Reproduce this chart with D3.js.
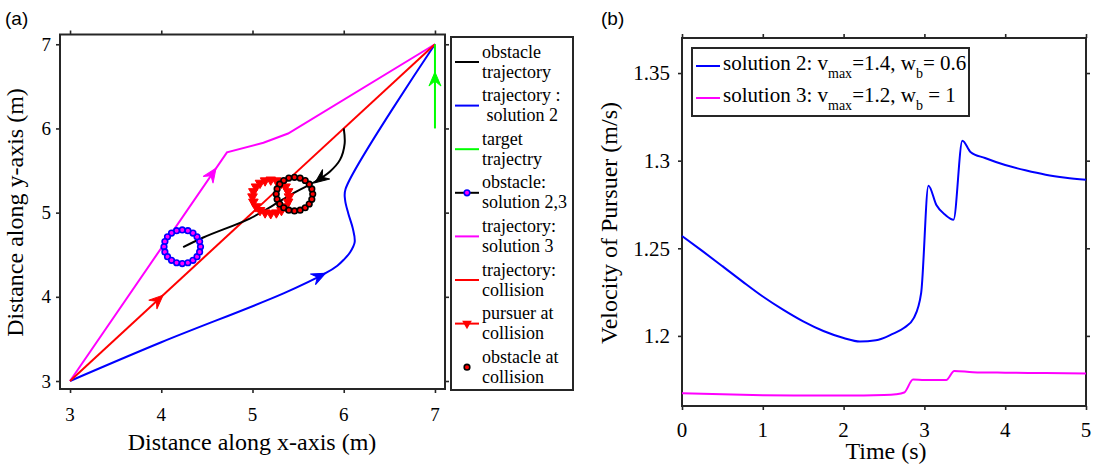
<!DOCTYPE html>
<html><head><meta charset="utf-8">
<script src="https://cdn.jsdelivr.net/npm/d3@7"></script>
<style>body{margin:0;background:#fff}svg{display:block}</style>
</head><body>
<svg id="c" width="1099" height="464"></svg>
<script>
// ---------- Panel (a) data ----------
const xTicksA = [3, 4, 5, 6, 7];
const yTicksA = [3, 4, 5, 6, 7];
const trajSolution2 = [[3,3],[4,3.46],[5.34,4.04],[5.8,4.28],[5.93,4.37],[6.0,4.44],[6.07,4.53],[6.12,4.65],[6.1,4.81],[6.05,4.99],[6.015,5.15],[6.02,5.28],[7,7]];
const trajSolution3 = [[3,3],[4.72,5.716],[5.12,5.83],[5.39,5.94],[7,7]];
const trajCollision = [[3,3],[7,7]];
const trajTarget = [[7,6],[7,7]];
const trajObstacle = [[6,6],[6.01,5.82],[5.96,5.63],[5.85,5.49],[5.69,5.37],[5.48,5.25],[5.23,5.09],[4.97,4.93],[4.46,4.705],[4.24,4.59]];
const obstacleSolCenter = [4.23, 4.595];
const obstacleColCenter = [5.46, 5.22];
const pursuerColCenter = [5.2, 5.19];
const ringRadius = 0.2;
const ringCount = 20;
// arrow tips and the point they come from
const arrowTips = [
  {c:'#ff00ff', tip:[4.6,5.527], from:[3,3]},
  {c:'#ff0000', tip:[4.02,4.02], from:[3,3]},
  {c:'#0000ff', tip:[5.8,4.28], from:[5.34,4.04]},
  {c:'#00ff00', tip:[7,6.67], from:[7,6]},
  {c:'#000000', tip:[5.685,5.356], from:[5.85,5.49]}
];
const legendA = [
  {type:'line', c:'#000000', t:['obstacle','trajectory']},
  {type:'line', c:'#0000ff', t:['trajectory :',' solution 2']},
  {type:'line', c:'#00ff00', t:['target','trajectry']},
  {type:'obs', c:'#000000', t:['obstacle:','solution 2,3']},
  {type:'line', c:'#ff00ff', t:['trajectory:','solution 3']},
  {type:'line', c:'#ff0000', t:['trajectory:','collision']},
  {type:'tri', c:'#ff0000', t:['pursuer at','collision']},
  {type:'col', c:'#000000', t:['obstacle at','collision']}
];

// ---------- Panel (b) data ----------
const xTicksB = [0, 1, 2, 3, 4, 5];
const yTicksB = [1.2, 1.25, 1.3, 1.35];
const yTickLabelsB = ['1.2', '1.25', '1.3', '1.35'];
const timeSol2 = [0,0.25,0.5,0.75,1.0,1.25,1.5,1.75,2.0,2.2,2.4,2.6,2.75,2.87,2.96,3.05,3.15,3.26,3.36,3.47,3.57,3.75,4.0,4.25,4.5,4.75,5];
const velSol2 = [1.257,1.2485,1.2398,1.231,1.2225,1.2150,1.2083,1.2028,1.1988,1.1968,1.1975,1.2010,1.2046,1.2103,1.2246,1.2857,1.2745,1.269,1.2663,1.3114,1.3050,1.3015,1.2975,1.2945,1.2920,1.2903,1.2891];
const timeSol3 = [0,0.5,1,1.5,2,2.5,2.65,2.75,2.86,3.0,3.27,3.37,3.6,4,4.5,5];
const velSol3 = [1.1673,1.1667,1.1662,1.1660,1.1660,1.1663,1.1667,1.1677,1.1751,1.1749,1.1749,1.1800,1.1793,1.1790,1.1788,1.1786];

// ---------- drawing ----------
const svg = d3.select('#c');
const AX = '#262626';
const SERIF = '"Liberation Serif", "Times New Roman", serif';
const SANS = '"Liberation Sans", Arial, sans-serif';

function boxAxes(g, x, y, xt, yt, xfmt, yfmt, fs, xLabY, yLabX) {
  const [x0, x1] = x.range(), [y0, y1] = y.range();
  g.append('g').attr('transform', `translate(0,${y0})`)
    .call(d3.axisBottom(x).tickValues(xt).tickSize(4).tickSizeOuter(0).tickFormat(''));
  g.append('g').attr('transform', `translate(0,${y1})`)
    .call(d3.axisTop(x).tickValues(xt).tickSize(4).tickSizeOuter(0).tickFormat(''));
  g.append('g').attr('transform', `translate(${x0},0)`)
    .call(d3.axisLeft(y).tickValues(yt).tickSize(4).tickSizeOuter(0).tickFormat(''));
  g.append('g').attr('transform', `translate(${x1},0)`)
    .call(d3.axisRight(y).tickValues(yt).tickSize(4).tickSizeOuter(0).tickFormat(''));
  g.selectAll('.domain').remove();
  g.selectAll('.tick text').remove();
  g.selectAll('.tick line').attr('stroke', AX).attr('stroke-width', 1.6);
  // tick labels as plain serif text
  g.selectAll('.xl').data(xt).join('text')
    .attr('x', d => x(d)).attr('y', y0 + xLabY).attr('text-anchor', 'middle')
    .style('font-family', SERIF).style('font-size', fs).text((d, i) => xfmt(d, i));
  g.selectAll('.yl').data(yt).join('text')
    .attr('x', x0 + yLabX).attr('y', d => y(d)).attr('dy', '0.35em').attr('text-anchor', 'end')
    .style('font-family', SERIF).style('font-size', fs).text((d, i) => yfmt(d, i));
  g.append('rect').attr('x', x0).attr('y', y1).attr('width', x1 - x0).attr('height', y0 - y1)
    .attr('fill', 'none').attr('stroke', AX).attr('stroke-width', 2);
}

// ===== Panel (a) =====
const xa = d3.scaleLinear().domain([2.89, 7.11]).range([60, 445]);
const ya = d3.scaleLinear().domain([2.905, 7.116]).range([389, 34.5]);
const ga = svg.append('g');
boxAxes(ga, xa, ya, xTicksA, yTicksA, d3.format('d'), d3.format('d'), '19px', 32, -9);
const lineA = d3.line().x(d => xa(d[0])).y(d => ya(d[1]));
const lineSmooth = d3.line().x(d => xa(d[0])).y(d => ya(d[1])).curve(d3.curveCatmullRom);
const pa = ga.append('g');
pa.append('path').attr('d', lineSmooth(trajSolution2)).attr('fill','none').attr('stroke','#0000ff').attr('stroke-width',2);
pa.append('path').attr('d', lineA(trajSolution3)).attr('fill','none').attr('stroke','#ff00ff').attr('stroke-width',2);
pa.append('path').attr('d', lineA(trajCollision)).attr('fill','none').attr('stroke','#ff0000').attr('stroke-width',2);
pa.append('path').attr('d', lineA(trajTarget)).attr('fill','none').attr('stroke','#00ff00').attr('stroke-width',2);
pa.append('path').attr('d', lineSmooth(trajObstacle)).attr('fill','none').attr('stroke','#000').attr('stroke-width',2);

function ring(center) {
  return d3.range(ringCount).map(i => {
    const a = 2 * Math.PI * i / ringCount;
    return [center[0] + ringRadius * Math.cos(a), center[1] + ringRadius * Math.sin(a)];
  });
}
const triSym = d3.symbol().type(d3.symbolTriangle).size(40);
pa.selectAll('.obs').data(ring(obstacleSolCenter)).join('circle')
  .attr('cx', d => xa(d[0])).attr('cy', d => ya(d[1])).attr('r', 2.8)
  .attr('fill', '#ff00ff').attr('stroke', '#0000ff').attr('stroke-width', 1.6);
pa.selectAll('.tri').data(ring(pursuerColCenter)).join('path')
  .attr('d', triSym).attr('transform', d => `translate(${xa(d[0])},${ya(d[1])}) rotate(180)`)
  .attr('fill', '#ff0000').attr('stroke', '#ff0000').attr('stroke-width', 1);
pa.selectAll('.col').data(ring(obstacleColCenter)).join('circle')
  .attr('cx', d => xa(d[0])).attr('cy', d => ya(d[1])).attr('r', 2.8)
  .attr('fill', '#ff0000').attr('stroke', '#000').attr('stroke-width', 1.6);

const L = 14, W = 6, N = 9;
arrowTips.forEach(a => {
  const tx = xa(a.tip[0]), ty = ya(a.tip[1]);
  const fx = xa(a.from[0]), fy = ya(a.from[1]);
  const ang = Math.atan2(ty - fy, tx - fx) * 180 / Math.PI;
  pa.append('path').attr('d', `M0,0 L${-L},${-W} L${-N},0 L${-L},${W} Z`)
    .attr('transform', `translate(${tx},${ty}) rotate(${ang})`)
    .attr('fill', a.c).attr('stroke', a.c).attr('stroke-width', 1);
});

// legend (a)
const lg = svg.append('g');
lg.append('rect').attr('x', 451).attr('y', 37).attr('width', 122).attr('height', 353)
  .attr('fill', '#fff').attr('stroke', AX).attr('stroke-width', 2);
legendA.forEach((e, i) => {
  const yl = 62 + 43.6 * i;
  if (e.type !== 'col') {
    const lc = e.type === 'obs' ? '#000' : e.c;
    lg.append('line').attr('x1', 455).attr('x2', 479).attr('y1', yl).attr('y2', yl)
      .attr('stroke', lc).attr('stroke-width', 2);
  }
  if (e.type === 'obs') lg.append('circle').attr('cx', 467).attr('cy', yl).attr('r', 2.8)
    .attr('fill', '#ff00ff').attr('stroke', '#0000ff').attr('stroke-width', 1.6);
  if (e.type === 'tri') lg.append('path').attr('d', triSym)
    .attr('transform', `translate(467,${yl}) rotate(180)`).attr('fill', '#ff0000');
  if (e.type === 'col') lg.append('circle').attr('cx', 467).attr('cy', yl).attr('r', 2.8)
    .attr('fill', '#ff0000').attr('stroke', '#000').attr('stroke-width', 1.6);
  e.t.forEach((s, j) => {
    lg.append('text').attr('x', 482).attr('y', yl - 4.5 + 20 * j)
      .style('font-family', SERIF).style('font-size', '18px').attr('xml:space', 'preserve')
      .style('white-space', 'pre').text(s);
  });
});

svg.append('text').attr('x', 252).attr('y', 450).attr('text-anchor', 'middle')
  .style('font-family', SERIF).style('font-size', '24px').text('Distance along x-axis (m)');
svg.append('text').attr('transform', 'translate(23,212.5) rotate(-90)').attr('text-anchor', 'middle')
  .style('font-family', SERIF).style('font-size', '24px').text('Distance along y-axis (m)');
svg.append('text').attr('x', 5).attr('y', 25).style('font-family', SANS).style('font-size', '19px').text('(a)');

// ===== Panel (b) =====
const xb = d3.scaleLinear().domain([0, 5]).range([682, 1086]);
const yb = d3.scaleLinear().domain([1.16, 1.37]).range([406, 38]);
const gbb = svg.append('g');
boxAxes(gbb, xb, yb, xTicksB, yTicksB, d3.format('d'), (d, i) => yTickLabelsB[i], '21px', 31, -12);
const lineB = d3.line().x(d => xb(d[0])).y(d => yb(d[1])).curve(d3.curveMonotoneX);
gbb.append('path').attr('d', lineB(timeSol2.map((t, i) => [t, velSol2[i]]))).attr('fill','none').attr('stroke','#0000ff').attr('stroke-width',2);
gbb.append('path').attr('d', lineB(timeSol3.map((t, i) => [t, velSol3[i]]))).attr('fill','none').attr('stroke','#ff00ff').attr('stroke-width',2);

// legend (b)
const lb = svg.append('g');
lb.append('rect').attr('x', 692).attr('y', 48).attr('width', 277).attr('height', 68)
  .attr('fill', '#fff').attr('stroke', AX).attr('stroke-width', 2);
const legB = [
  {c:'#0000ff', y:66, parts:['solution 2: v','max','=1.4, w','b','= 0.6']},
  {c:'#ff00ff', y:98, parts:['solution 3: v','max','=1.2, w','b',' = 1']}
];
legB.forEach(e => {
  lb.append('line').attr('x1', 696).attr('x2', 720).attr('y1', e.y).attr('y2', e.y).attr('stroke', e.c).attr('stroke-width', 2);
  const t = lb.append('text').attr('x', 723).attr('y', e.y + 4).style('font-family', SERIF).style('font-size', '21px')
    .attr('xml:space', 'preserve').style('white-space', 'pre');
  e.parts.forEach((p, k) => {
    const sub = k % 2 === 1;
    t.append('tspan').attr('dy', k === 0 ? 0 : (sub ? 8 : -8)).style('font-size', sub ? '14px' : '21px').text(p);
  });
});

svg.append('text').attr('x', 886).attr('y', 459).attr('text-anchor', 'middle')
  .style('font-family', SERIF).style('font-size', '24px').text('Time (s)');
svg.append('text').attr('transform', 'translate(617,223) rotate(-90)').attr('text-anchor', 'middle')
  .style('font-family', SERIF).style('font-size', '24px').text('Velocity of Pursuer (m/s)');
svg.append('text').attr('x', 601).attr('y', 25).style('font-family', SANS).style('font-size', '19px').text('(b)');
</script>
</body></html>
